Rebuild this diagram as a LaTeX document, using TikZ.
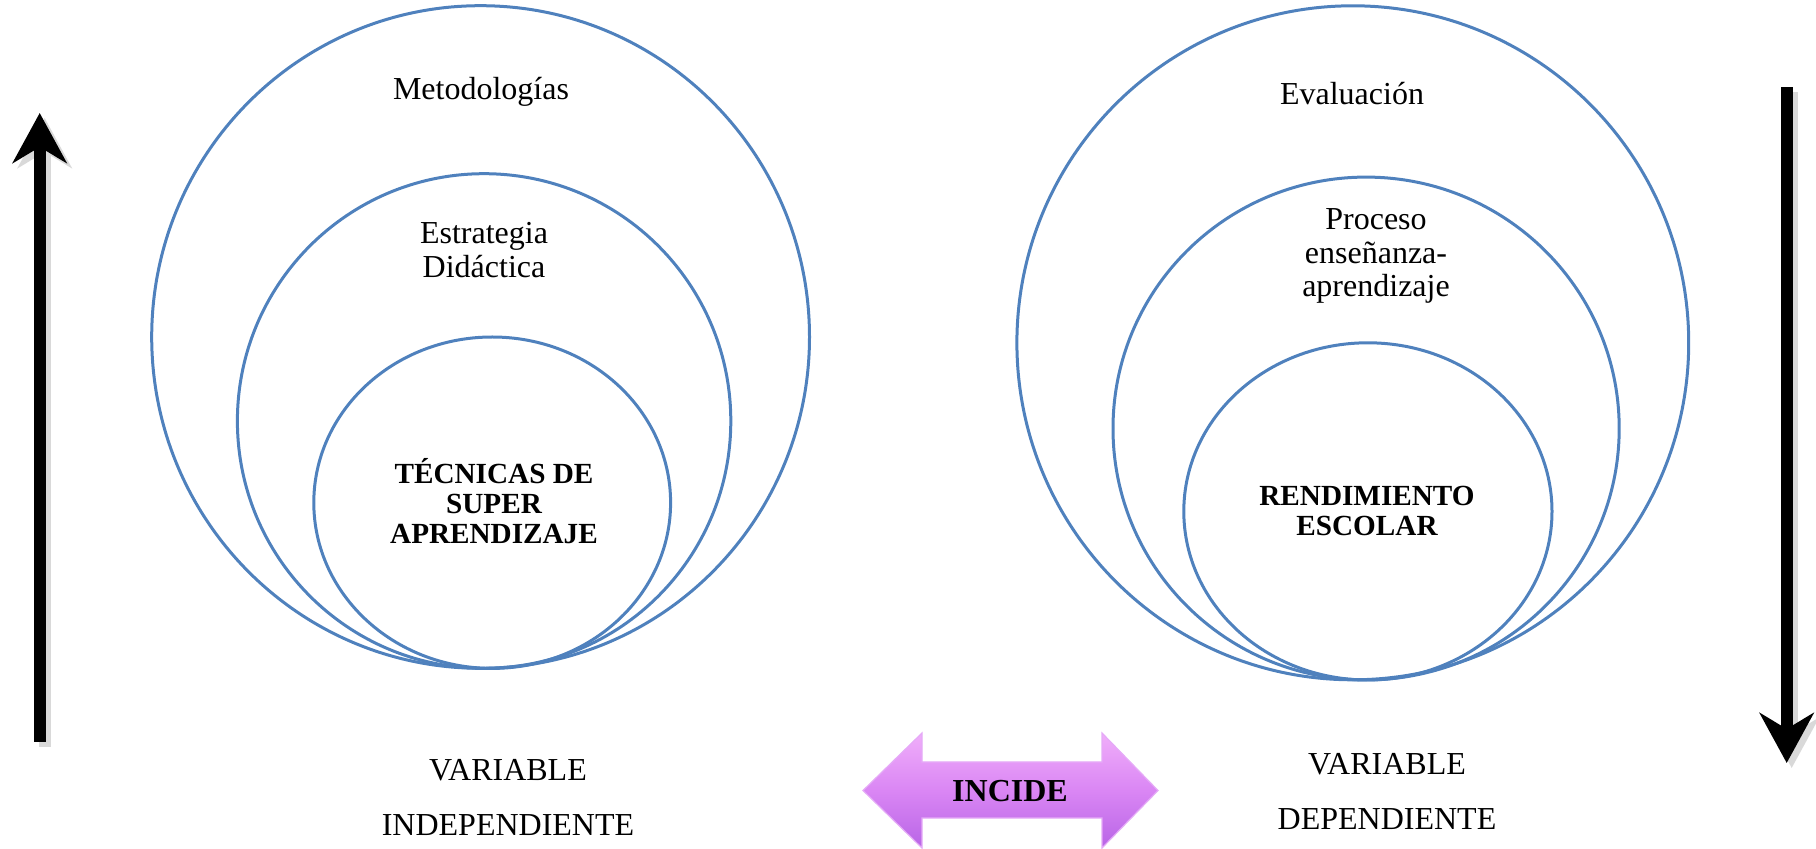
\documentclass[tikz,border=0pt]{standalone}
\usepackage{fontspec}
\setmainfont{Liberation Serif}
\usetikzlibrary{shapes.geometric,arrows.meta,positioning}
\definecolor{ringblue}{HTML}{4F81BD}
\definecolor{incidetop}{HTML}{F0AEFA}
\definecolor{incidemid}{HTML}{DA86F4}
\definecolor{incidebot}{HTML}{B865E6}
\begin{document}
\begin{tikzpicture}[x=0.5pt,y=-0.5pt,
        ring/.style={ellipse,draw=ringblue,line width=1.5pt,inner sep=0pt},
        ringtext/.style={align=center,font=\fontsize{16}{16.8}\selectfont},
        coretext/.style={align=center,font=\fontsize{14.6}{15}\selectfont\bfseries},
        vartext/.style={align=center,font=\fontsize{16}{27.5}\selectfont},
        vararrow/.style={line width=6pt,-{Stealth[length=25pt,width=27pt,inset=8pt]}}]
        \useasboundingbox (0,0) rectangle (1816,849);
        % variable independiente
        \node[ring,minimum width=328.9pt,minimum height=331.3pt] (metodologias) at (480.6,337) {};
        \node[ring,minimum width=246.7pt,minimum height=247.3pt] (estrategia) at (484.1,421) {};
        \node[ring,minimum width=178.4pt,minimum height=165.7pt] (tecnicas) at (492.2,502.7) {};
        \node[ringtext] (metodologiastext) at (481,92) {Metodologías};
        \node[ringtext] (estrategiatext) at (484,250) {Estrategia\\Didáctica};
        \node[coretext] (tecnicastext) at (494,501) {TÉCNICAS DE\\SUPER\\APRENDIZAJE};
        % variable dependiente
        \node[ring,minimum width=335.9pt,minimum height=337pt] (evaluacion) at (1352.8,342.8) {};
        \node[ring,minimum width=253.1pt,minimum height=251.4pt] (proceso) at (1366.1,428.5) {};
        \node[ring,minimum width=184.1pt,minimum height=168.6pt] (rendimiento) at (1367.9,511.4) {};
        \node[ringtext] (evaluaciontext) at (1352,94) {Evaluación};
        \node[ringtext] (procesotext) at (1376,256) {Proceso\\enseñanza-\\aprendizaje};
        \node[coretext] (rendimientotext) at (1367,511) {RENDIMIENTO\\ESCOLAR};
        % etiquetas
        \node[vartext] (independiente) at (508,797) {VARIABLE\\INDEPENDIENTE};
        \node[vartext] (dependiente) at (1387,791) {VARIABLE\\DEPENDIENTE};
        % flechas verticales
        \coordinate (upstart) at (39.7,741.7);
        \coordinate (upend) at (39.7,113);
        \coordinate (downstart) at (1786.7,87.3);
        \coordinate (downend) at (1786.7,763);
        \draw[vararrow,black!15] ([shift={(5,5)}]upstart) -- ([shift={(5,5)}]upend);
        \draw[vararrow,black!15] ([shift={(5,5)}]downstart) -- ([shift={(5,5)}]downend);
        \draw[vararrow] (upstart) -- (upend);
        \draw[vararrow] (downstart) -- (downend);
        % incide
        \shade[top color=incidetop,bottom color=incidebot,middle color=incidemid,draw=incidemid!70!white,line width=0.6pt]
            (863,790.5) -- (922,733) -- (922,762) -- (1102,762) -- (1102,733) -- (1158,790.5)
            -- (1102,848) -- (1102,818) -- (922,818) -- (922,848) -- cycle;
        \node[font=\fontsize{16}{16}\selectfont\bfseries] (incide) at (1010,791) {INCIDE};
\end{tikzpicture}
\end{document}
